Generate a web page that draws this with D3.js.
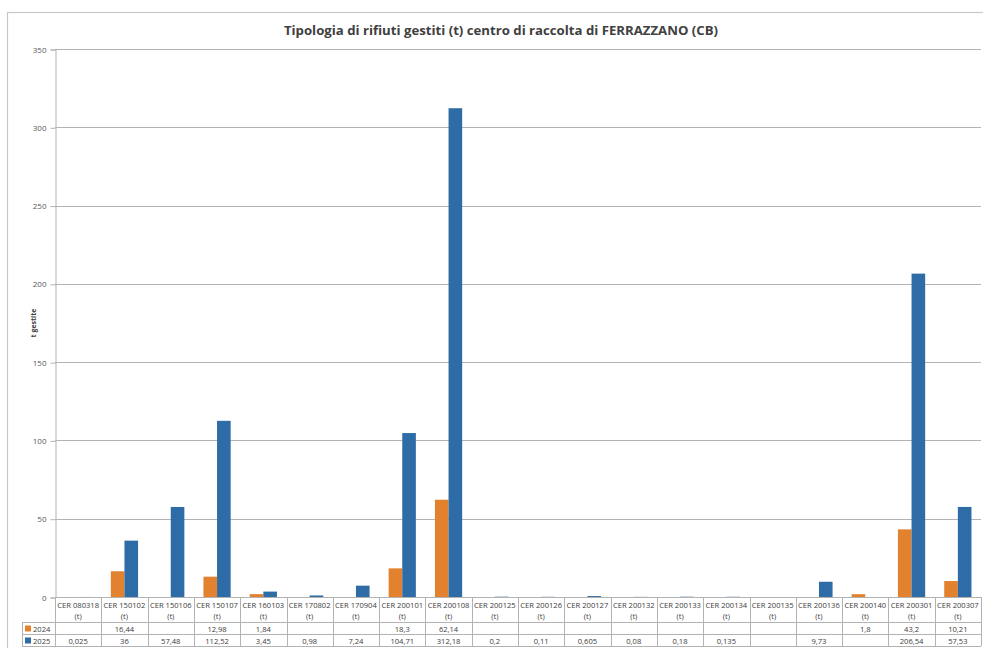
<!DOCTYPE html>
<html><head><meta charset="utf-8">
<script src="https://cdn.jsdelivr.net/npm/d3@7"></script>
<style>html,body{margin:0;padding:0;background:#fff;}svg{display:block;font-family:"Open Sans","Noto Sans",sans-serif;}</style>
</head><body>
<svg id="chart" width="983" height="648"></svg>
<script>
const categories = ["CER 080318","CER 150102","CER 150106","CER 150107","CER 160103","CER 170802","CER 170904","CER 200101","CER 200108","CER 200125","CER 200126","CER 200127","CER 200132","CER 200133","CER 200134","CER 200135","CER 200136","CER 200140","CER 200301","CER 200307"];
const seriesNames = ["2024","2025"];
const values2024 = [null,16.44,null,12.98,1.84,null,null,18.3,62.14,null,null,null,null,null,null,null,null,1.8,43.2,10.21];
const values2025 = [0.025,36,57.48,112.52,3.45,0.98,7.24,104.71,312.18,0.2,0.11,0.605,0.08,0.18,0.135,null,9.73,null,206.54,57.53];
const yTicks = [0,50,100,150,200,250,300,350];
const titleText = "Tipologia di rifiuti gestiti (t) centro di raccolta di FERRAZZANO (CB)";
const yTitle = "t gestite";
const colors = {"2024":"#E3822E","2025":"#2E6CA7"};

const svg = d3.select("#chart");
const L = 55, R = 981, T = 49, B = 597;
const lineCol = "#B3B3B3";

// outer border
svg.append("rect").attr("x",7.5).attr("y",12.5).attr("width",990).attr("height",660)
  .attr("fill","none").attr("stroke","#C8C8C8").attr("stroke-width",1.2);

svg.append("text").attr("x",501).attr("y",35).attr("text-anchor","middle")
  .attr("font-size",13.2).attr("font-weight","bold").attr("fill","#404040").text(titleText);

const x = d3.scaleBand().domain(categories).range([L,R]);
const xi = d3.scaleBand().domain(seriesNames).range([0,x.bandwidth()]).paddingInner(0).paddingOuter(0.7);
const y = d3.scaleLinear().domain([0,350]).range([B,T]);

// gridlines
svg.append("g").selectAll("line").data(yTicks).join("line")
  .attr("x1",L).attr("x2",R).attr("y1",d=>Math.round(y(d))+0.5).attr("y2",d=>Math.round(y(d))+0.5)
  .attr("stroke",lineCol).attr("stroke-width",1);

// y axis
const yAxis = d3.axisLeft(y).tickValues(yTicks).tickSize(5).tickPadding(4).tickFormat(d3.format("d"));
const gy = svg.append("g").attr("transform",`translate(${L+0.5},0.5)`).call(yAxis);
gy.select(".domain").attr("stroke",lineCol);
gy.selectAll(".tick line").attr("stroke",lineCol);
gy.selectAll(".tick text").attr("font-size",8).attr("fill","#595959").attr("font-family","Open Sans, sans-serif");

svg.append("text").attr("transform",`translate(36,${(T+B)/2}) rotate(-90)`).attr("text-anchor","middle")
  .attr("font-size",7).attr("font-weight","bold").attr("fill","#404040").text(yTitle);

// bars
const data = categories.map((c,i)=>({c, vals:[{s:"2024",v:values2024[i]},{s:"2025",v:values2025[i]}]}));
const g = svg.append("g");
data.forEach(d=>{
  d.vals.forEach(e=>{
    if(e.v==null) return;
    g.append("rect").attr("x",x(d.c)+xi(e.s)).attr("width",xi.bandwidth())
      .attr("y",y(e.v)).attr("height",B-y(e.v)).attr("fill",colors[e.s]);
  });
});

// data table
const rowTop = B, r1 = 622, r2 = 634, r3 = 646, legL = 22;
const tg = svg.append("g");
// horizontal lines
tg.append("line").attr("x1",L).attr("x2",R).attr("y1",B+0.5).attr("y2",B+0.5).attr("stroke",lineCol);
[r1,r2,r3].forEach(yy=>tg.append("line").attr("x1",legL).attr("x2",R).attr("y1",yy+0.5).attr("y2",yy+0.5).attr("stroke",lineCol));
// vertical lines
const bounds = categories.map(c=>x(c)).concat([R]);
bounds.forEach(bx=>tg.append("line").attr("x1",Math.round(bx)+0.5).attr("x2",Math.round(bx)+0.5).attr("y1",B).attr("y2",r3).attr("stroke",lineCol));
tg.append("line").attr("x1",legL+0.5).attr("x2",legL+0.5).attr("y1",r1).attr("y2",r3).attr("stroke",lineCol);

// header labels
categories.forEach(c=>{
  const cx = x(c)+x.bandwidth()/2;
  tg.append("text").attr("x",cx).attr("y",608).attr("text-anchor","middle").attr("font-size",7.6).attr("fill","#404040").text(c);
  tg.append("text").attr("x",cx).attr("y",619).attr("text-anchor","middle").attr("font-size",7.6).attr("fill","#404040").text("(t)");
});
const fmt = v => String(v).replace(".",",");
[[values2024,r1],[values2025,r2]].forEach(([vals,top])=>{
  vals.forEach((v,i)=>{
    if(v==null) return;
    tg.append("text").attr("x",x(categories[i])+x.bandwidth()/2).attr("y",top+9.5).attr("text-anchor","middle")
      .attr("font-size",7.6).attr("fill","#404040").text(fmt(v));
  });
});
// legend keys
seriesNames.forEach((s,i)=>{
  const top = i===0 ? r1 : r2;
  tg.append("rect").attr("x",25).attr("y",top+3.5).attr("width",6).attr("height",6).attr("fill",colors[s]);
  tg.append("text").attr("x",33).attr("y",top+9.5).attr("font-size",7.6).attr("fill","#404040").text(s);
});
</script>
</body></html>
